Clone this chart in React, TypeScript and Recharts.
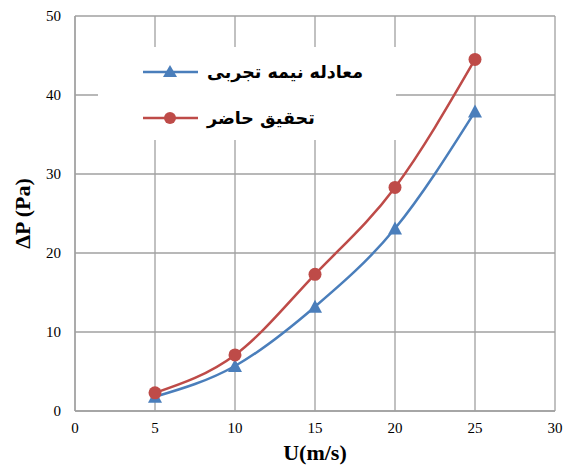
import {
  LineChart,
  Line,
  XAxis,
  YAxis,
  CartesianGrid,
  Legend,
} from 'recharts';

const speeds = [5, 10, 15, 20, 25];
const semiEmpirical = [1.8, 5.7, 13.2, 23.1, 37.9];
const present = [2.3, 7.1, 17.3, 28.3, 44.5];
const seriesNames = ['معادله نیمه تجربی', 'تحقیق حاضر'];
const xTicks = [0, 5, 10, 15, 20, 25, 30];
const yTicks = [0, 10, 20, 30, 40, 50];

const data = speeds.map((u, i) => ({
  u,
  semi: semiEmpirical[i],
  present: present[i],
}));

const BLUE = '#4a7ebb';
const RED = '#be4b48';
const GRID = '#a0a0a0';
const SERIF = '"Liberation Serif", "Times New Roman", serif';

function Triangle(props: any) {
  const { cx, cy } = props;
  if (cx == null || cy == null) return null;
  return (
    <polygon
      points={`${cx},${cy - 7} ${cx - 7},${cy + 6} ${cx + 7},${cy + 6}`}
      fill={BLUE}
    />
  );
}

function Circle(props: any) {
  const { cx, cy } = props;
  if (cx == null || cy == null) return null;
  return <circle cx={cx} cy={cy} r={6.5} fill={RED} />;
}

function XTick(props: any) {
  const { x, y, payload } = props;
  return (
    <text x={x} y={y + 14} textAnchor="middle" fill="#000" fontFamily={SERIF} fontSize={15}>
      {payload.value}
    </text>
  );
}

function YTick(props: any) {
  const { x, y, payload } = props;
  return (
    <text x={x} y={y + 5} textAnchor="end" fill="#000" fontFamily={SERIF} fontSize={15}>
      {payload.value}
    </text>
  );
}

function LegendBox() {
  const rows = [
    { name: seriesNames[0], color: BLUE, tri: true },
    { name: seriesNames[1], color: RED, tri: false },
  ];
  return (
    <div style={{ width: 298, height: 93, background: '#fff', position: 'relative' }}>
      {rows.map((r, i) => (
        <div
          key={r.name}
          style={{
            position: 'absolute',
            left: 45,
            top: 12 + i * 46,
            display: 'flex',
            alignItems: 'center',
            height: 26,
          }}
        >
          <svg width={56} height={20}>
            <line x1={0} y1={10} x2={55} y2={10} stroke={r.color} strokeWidth={2.5} />
            {r.tri ? (
              <polygon points="27,3 20,15 34,15" fill={r.color} />
            ) : (
              <circle cx={27} cy={10} r={6} fill={r.color} />
            )}
          </svg>
          <span
            dir="rtl"
            style={{
              marginLeft: 8,
              fontFamily: '"DejaVu Sans", sans-serif',
              fontWeight: 'bold',
              fontSize: 17.5,
              color: '#000',
              whiteSpace: 'nowrap',
            }}
          >
            {r.name}
          </span>
        </div>
      ))}
    </div>
  );
}

export default function App() {
  return (
    <div style={{ position: 'absolute', left: 0, top: 0, background: '#fff' }}>
      <LineChart
        width={568}
        height={466}
        data={data}
        margin={{ top: 16, right: 13, bottom: 0, left: 0 }}
      >
        <CartesianGrid stroke={GRID} strokeWidth={1.3} />
        <XAxis
          dataKey="u"
          type="number"
          domain={[0, 30]}
          ticks={xTicks}
          height={55}
          stroke={GRID}
          strokeWidth={1.3}
          tickLine={false}
          tickSize={6}
          tick={<XTick />}
          label={{
            value: 'U(m/s)',
            position: 'insideBottom',
            offset: 6,
            fill: '#000',
            fontFamily: SERIF,
            fontWeight: 'bold',
            fontSize: 22,
          }}
        />
        <YAxis
          type="number"
          domain={[0, 50]}
          ticks={yTicks}
          width={75}
          stroke={GRID}
          strokeWidth={1.3}
          tickLine={false}
          tickSize={12}
          tick={<YTick />}
          label={{
            value: 'ΔP (Pa)',
            angle: -90,
            position: 'insideLeft',
            offset: 22,
            style: { textAnchor: 'middle', fontFamily: SERIF },
            fill: '#000',
            fontWeight: 'bold',
            fontSize: 22,
          }}
        />
        <Legend
          layout="vertical"
          align="center"
          verticalAlign="middle"
          content={() => <LegendBox />}
          wrapperStyle={{ left: 98, top: 47, width: 298, height: 93 }}
        />
        <Line
          name={seriesNames[0]}
          dataKey="semi"
          type="monotone"
          stroke={BLUE}
          strokeWidth={2.5}
          dot={<Triangle />}
          activeDot={false}
          isAnimationActive={false}
        />
        <Line
          name={seriesNames[1]}
          dataKey="present"
          type="monotone"
          stroke={RED}
          strokeWidth={2.5}
          dot={<Circle />}
          activeDot={false}
          isAnimationActive={false}
        />
      </LineChart>
    </div>
  );
}
